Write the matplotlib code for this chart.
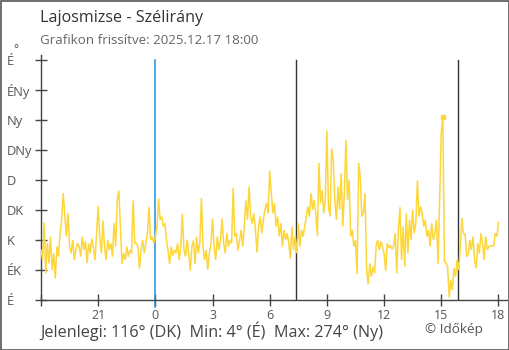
import numpy as np
import matplotlib
matplotlib.use("Agg")
import matplotlib.pyplot as plt
from matplotlib.patches import Rectangle

plt.rcParams['font.family'] = ['Open Sans', 'DejaVu Sans']

# Wind direction (degrees), 5-minute samples from 18:00 to 18:00 next day
step_minutes = 5
wind_dir = [
    75, 60, 116, 40, 85, 55, 95, 45, 70, 32, 80, 65,
    100, 120, 160, 125, 95, 130, 80, 70, 90, 60, 75, 85,
    80, 65, 95, 75, 88, 55, 85, 70, 92, 78, 60, 100,
    141, 95, 70, 119, 80, 60, 90, 75, 85, 65, 115, 80,
    150, 164, 110, 54, 70, 60, 80, 65, 75, 70, 149, 85,
    85, 80, 47, 75, 90, 70, 85, 100, 139, 90, 95, 85,
    95, 110, 152, 120, 125, 110, 115, 90, 74, 54, 80, 66,
    75, 70, 85, 60, 80, 129, 75, 65, 90, 70, 44, 80,
    89, 54, 95, 70, 85, 153, 80, 60, 75, 45, 70, 84,
    122, 80, 60, 95, 75, 90, 122, 85, 70, 100, 80, 90,
    85, 168, 95, 100, 74, 90, 105, 80, 110, 149, 120, 170,
    125, 115, 130, 105, 71, 110, 125, 100, 120, 135, 145, 130,
    194, 160, 130, 145, 110, 125, 95, 115, 80, 105, 90, 100,
    85, 62, 110, 75, 95, 70, 115, 80, 105, 95, 110, 125,
    140, 125, 160, 135, 150, 130, 96, 205, 145, 165, 130, 150,
    254, 140, 125, 227, 209, 150, 120, 170, 135, 190, 110, 160,
    240, 150, 180, 95, 105, 80, 90, 39, 205, 184, 125, 130,
    160, 45, 24, 55, 35, 50, 40, 80, 90, 75, 88, 80,
    70, 44, 85, 78, 82, 76, 80, 100, 40, 105, 139, 60,
    110, 50, 130, 70, 120, 90, 135, 100, 115, 179, 125, 140,
    130, 110, 120, 95, 105, 80, 115, 90, 100, 120, 54, 152,
    250, 274, 58, 56, 50, 4, 30, 15, 48, 35, 60, 45,
    80, 123, 99, 99, 65, 69, 90, 75, 95, 60, 48, 85,
    70, 100, 85, 60, 95, 75, 80, 81, 81, 81, 100, 95,
    116,
]

dir_ticks = [0, 45, 90, 135, 180, 225, 270, 315, 360]
dir_labels = ["É", "ÉK", "K", "DK", "D", "DNy", "Ny", "ÉNy", "É"]

hour_ticks = [0, 3, 6, 9, 12, 15, 18, 21, 24]          # hours after 18:00
hour_labels = ["", "21", "0", "3", "6", "9", "12", "15", "18"]

midnight = 6.0
sunrise = 13.37
sunset = 21.9

current_val, min_val, max_val = 116, 4, 274

hours = np.arange(len(wind_dir)) * step_minutes / 60.0
wind_dir = np.array(wind_dir)

fig = plt.figure(figsize=(5.10, 3.50), dpi=100)
ax = fig.add_axes([41 / 510, 50 / 350, 466 / 510, 245 / 350])

axis_col = "#444444"
line_col = "#FDD63A"

ax.plot(hours, wind_dir, color=line_col, lw=1.1, zorder=3, solid_joinstyle="miter")
imax = int(np.argmax(wind_dir))
ax.plot(hours[imax], wind_dir[imax], marker="s", ms=3.2, color=line_col, zorder=4)

ax.plot([midnight, midnight], [-10, 360], color="#1E8FE1", lw=1.1, clip_on=False, zorder=2)
for t in (sunrise, sunset):
    ax.plot([t, t], [0, 360], color="#333333", lw=1.0, zorder=2)

ax.set_xlim(0, 24.45)
ax.set_ylim(0, 367)

for side in ("top", "right"):
    ax.spines[side].set_visible(False)
for side in ("left", "bottom"):
    ax.spines[side].set_color(axis_col)
    ax.spines[side].set_linewidth(1.0)

ax.set_yticks(dir_ticks)
ax.set_yticklabels(dir_labels)
ax.set_xticks(hour_ticks)
ax.set_xticklabels(hour_labels)
ax.tick_params(axis="y", direction="inout", length=9, width=1.0, color=axis_col,
               labelsize=9.3, labelcolor="#555555", pad=20)
for lab in ax.get_yticklabels():
    lab.set_horizontalalignment("left")
ax.tick_params(axis="x", direction="inout", length=9, width=1.0, color=axis_col,
               labelsize=9, labelcolor="#555555", pad=2)

fig.text(13 / 510, 1 - 50 / 350, "°", fontsize=8.5, color="#555555", ha="left", va="center")

fig.text(40 / 510, 1 - 18 / 350, "Lajosmizse - Szélirány", fontsize=11.6,
         color="#333333", ha="left", va="center")
fig.text(40 / 510, 1 - 40 / 350, "Grafikon frissítve: 2025.12.17 18:00", fontsize=9.6,
         color="#666666", ha="left", va="center")

summary = (f"Jelenlegi: {current_val}° (DK)  Min: {min_val}° (É)  "
           f"Max: {max_val}° (Ny)")
fig.text(40 / 510, 1 - 331 / 350, summary, fontsize=11.6, color="#444444",
         ha="left", va="center")
fig.text(425 / 510, 1 - 329 / 350, "© Időkép", fontsize=9.7, color="#555555",
         ha="left", va="center")

fig.patches.append(Rectangle((0.5 / 510, 0.5 / 350), 509 / 510, 349 / 350,
                             transform=fig.transFigure, fill=False,
                             edgecolor="#555555", lw=1.2))

fig.savefig("out.png", dpi=100)
